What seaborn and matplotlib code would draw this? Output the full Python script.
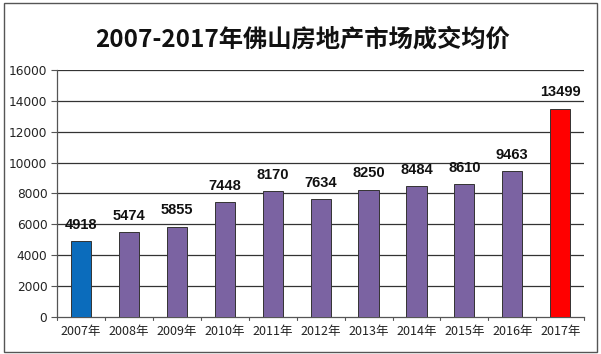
import numpy as np
import pandas as pd
import matplotlib
matplotlib.use("Agg")
import matplotlib.pyplot as plt
import seaborn as sns
from matplotlib.patches import Rectangle

# 数据
years = ["2007年", "2008年", "2009年", "2010年", "2011年", "2012年",
         "2013年", "2014年", "2015年", "2016年", "2017年"]
prices = [4918, 5474, 5855, 7448, 8170, 7634, 8250, 8484, 8610, 9463, 13499]
bar_colors = ["#0b6cbc"] + ["#7b63a2"] * 9 + ["#ff0000"]
yticks = list(range(0, 16001, 2000))

sns.set_style("white")
plt.rcParams['font.family'] = ['Noto Sans CJK SC', 'DejaVu Sans']

df = pd.DataFrame({"year": years, "price": prices})

fig = plt.figure(figsize=(6.01, 3.54), dpi=100)
ax = fig.add_axes([0.095, 0.1045, 0.877, 0.698])

sns.barplot(data=df, x="year", y="price", hue="year", palette=bar_colors,
            saturation=1, width=0.42, edgecolor="#333333", linewidth=0.7,
            legend=False, ax=ax, zorder=3)

ax.set_ylim(0, 16000)
ax.set_xlim(-0.5, len(years) - 0.5)
ax.set_yticks(yticks)
ax.set_yticklabels([str(t) for t in yticks], fontsize=8.7, family='DejaVu Sans', color="#222222")
ax.set_xticks(range(len(years)))
ax.set_xticklabels(years, fontsize=9, color="#222222")
ax.set_xlabel("")
ax.set_ylabel("")

# 网格线
for t in yticks[1:]:
    ax.axhline(t, color="#333333", linewidth=0.9, zorder=1)

for s in ["top", "right"]:
    ax.spines[s].set_visible(False)
for s in ["left", "bottom"]:
    ax.spines[s].set_color("#555555")
    ax.spines[s].set_linewidth(0.9)

ax.tick_params(axis="y", length=4, width=0.8, color="#555555", direction="out", left=True, pad=3)
ax.tick_params(axis="x", length=0, pad=6)
# x 轴分隔刻度
for b in np.arange(-0.5, len(years), 1.0):
    ax.plot([b, b], [0, -180], color="#555555", linewidth=0.8, clip_on=False, zorder=4)

# 数值标签
for i, v in enumerate(prices):
    ax.text(i, v + 600, str(v), ha="center", va="bottom", fontsize=10.5,
            fontweight="bold", family="Liberation Sans", color="#111111", zorder=5)

fig.text(0.503, 0.887, "2007-2017年佛山房地产市场成交均价", ha="center", va="center",
         fontsize=17.5, fontweight="bold", color="#111111")

# 外框
fig.patches.append(Rectangle((0.006, 0.006), 0.988, 0.985, transform=fig.transFigure,
                             fill=False, edgecolor="#555555", linewidth=1.0))

fig.savefig("out.png", dpi=100)
